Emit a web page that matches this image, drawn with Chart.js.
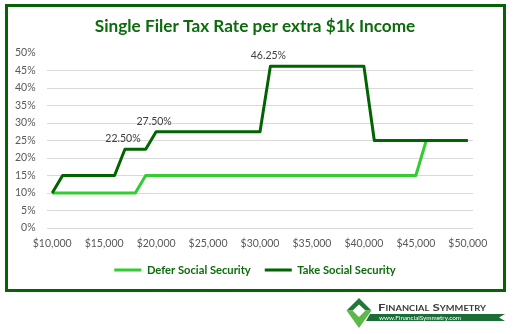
<!DOCTYPE html>
<html>
<head>
<meta charset="utf-8">
<script src="https://cdn.jsdelivr.net/npm/chart.js@4/dist/chart.umd.min.js"></script>
<style>
  html, body { margin: 0; padding: 0; background: #ffffff; }
  #wrap { position: relative; width: 517px; height: 334px; overflow: hidden; }
  #frame { position: absolute; left: 5px; top: 4px; width: 501px; height: 288px; box-sizing: border-box; border: 3px solid #056205; pointer-events: none; }
  canvas { position: absolute; left: 0; top: 0; }
  #logo { position: absolute; left: 0; top: 0; }
</style>
</head>
<body>
<div id="wrap">
  <canvas id="c" width="517" height="334"></canvas>
  <div id="frame"></div>
  <svg id="logo" width="517" height="334" viewBox="0 0 517 334">
    <polygon points="370,314 505,314 499,317.5 505,321 366,321" fill="#1b6e38"/>
    <text x="379" y="319.8" font-family="Lato, sans-serif" font-size="6.3" fill="#ffffff" textLength="82" lengthAdjust="spacingAndGlyphs">www.FinancialSymmetry.com</text>
    <polygon points="359,298 371.5,310.5 365.5,310.5 359,304.5 352.5,310.5 346.5,310.5" fill="#1d7a3a"/>
    <polygon points="346.5,310.5 352.5,310.5 359,317 365.5,310.5 371.5,310.5 359,328" fill="#5cb847"/>
    <text x="378" y="311" font-family="Lato, sans-serif" font-weight="bold" font-size="10" fill="#3a3a3a" style="font-variant: small-caps" textLength="108" lengthAdjust="spacingAndGlyphs">Financial Symmetry</text>
  </svg>
</div>
<script>
// ---- data ----
const incomes = [10000,11000,12000,13000,14000,15000,16000,17000,18000,19000,
                 20000,21000,22000,23000,24000,25000,26000,27000,28000,29000,
                 30000,31000,32000,33000,34000,35000,36000,37000,38000,39000,
                 40000,41000,42000,43000,44000,45000,46000,47000,48000,49000,50000];
const deferSS = [10,10,10,10,10,10,10,10,10,15,
                 15,15,15,15,15,15,15,15,15,15,
                 15,15,15,15,15,15,15,15,15,15,
                 15,15,15,15,15,15,25,25,25,25,25];
const takeSS  = [10,15,15,15,15,15,15,22.5,22.5,22.5,
                 27.5,27.5,27.5,27.5,27.5,27.5,27.5,27.5,27.5,27.5,
                 27.5,46.25,46.25,46.25,46.25,46.25,46.25,46.25,46.25,46.25,
                 46.25,25,25,25,25,25,25,25,25,25,25];
const seriesNames = ["Defer Social Security", "Take Social Security"];
const labeledPoints = [7, 10, 21];   // indices of Take SS points with value labels
const yTicks = [0,5,10,15,20,25,30,35,40,45,50];
const xTickLabels = [10000,15000,20000,25000,30000,35000,40000,45000,50000];
const titleText = "Single Filer Tax Rate per extra $1k Income";

const FONT = "Lato, 'Liberation Sans', sans-serif";
const GREEN_TEXT = "#0c6c0c";

const dataLabelPlugin = {
  id: 'dataLabels',
  afterDatasetsDraw(chart) {
    const ctx = chart.ctx;
    const meta = chart.getDatasetMeta(1);
    ctx.save();
    ctx.font = "10.5px " + FONT;
    ctx.fillStyle = "#404040";
    ctx.textAlign = "center";
    ctx.textBaseline = "middle";
    labeledPoints.forEach(i => {
      const pt = meta.data[i];
      ctx.fillText(takeSS[i].toFixed(2) + "%", pt.x - 2, pt.y - 10.5);
    });
    ctx.restore();
  }
};

new Chart(document.getElementById('c'), {
  type: 'line',
  data: {
    labels: incomes,
    datasets: [
      { label: seriesNames[0], data: deferSS, borderColor: '#33cc33', backgroundColor: '#33cc33',
        borderWidth: 3, pointRadius: 0, tension: 0, borderJoinStyle: 'round', order: 1 },
      { label: seriesNames[1], data: takeSS, borderColor: '#006400', backgroundColor: '#006400',
        borderWidth: 3, pointRadius: 0, tension: 0, borderJoinStyle: 'round', order: 0 }
    ]
  },
  options: {
    responsive: false,
    animation: false,
    devicePixelRatio: 1,
    layout: { padding: { top: 10, left: 37, right: 44, bottom: 48.3 } },
    plugins: {
      title: {
        display: true, text: titleText, color: GREEN_TEXT,
        font: { family: FONT, size: 17.2, weight: 'bold', lineHeight: 1.2 },
        padding: { top: 6.4, bottom: 15.96 }
      },
      legend: {
        position: 'bottom',
        labels: {
          usePointStyle: true, pointStyle: 'line', pointStyleWidth: 27,
          padding: 14, color: GREEN_TEXT,
          font: { family: FONT, size: 11.2, weight: 'bold' },
          sort: (a, b) => a.datasetIndex - b.datasetIndex
        }
      },
      tooltip: { enabled: false }
    },
    scales: {
      x: {
        type: 'category',
        offset: true,
        grid: { display: false, drawTicks: false },
        border: { display: false },
        ticks: {
          autoSkip: false, maxRotation: 0, minRotation: 0, padding: 9,
          color: '#595959', font: { family: FONT, size: 10.5 },
          callback: function(value, index) {
            const v = incomes[index];
            return xTickLabels.includes(v) ? '$' + v.toLocaleString('en-US') : '';
          }
        },
        afterFit: s => { s.height = 22.5; }
      },
      y: {
        min: yTicks[0], max: yTicks[yTicks.length - 1],
        grid: { drawTicks: false, color: c => (c.tick && c.tick.value === 50) ? 'rgba(0,0,0,0)' : '#d9d9d9', lineWidth: 1 },
        border: { display: false },
        ticks: {
          stepSize: 5, mirror: true, crossAlign: 'far', padding: -32,
          color: '#595959', font: { family: FONT, size: 10.5 },
          callback: v => v + '%'
        },
        afterFit: s => { s.width = 10; }
      }
    }
  },
  plugins: [dataLabelPlugin]
});
</script>
</body>
</html>
